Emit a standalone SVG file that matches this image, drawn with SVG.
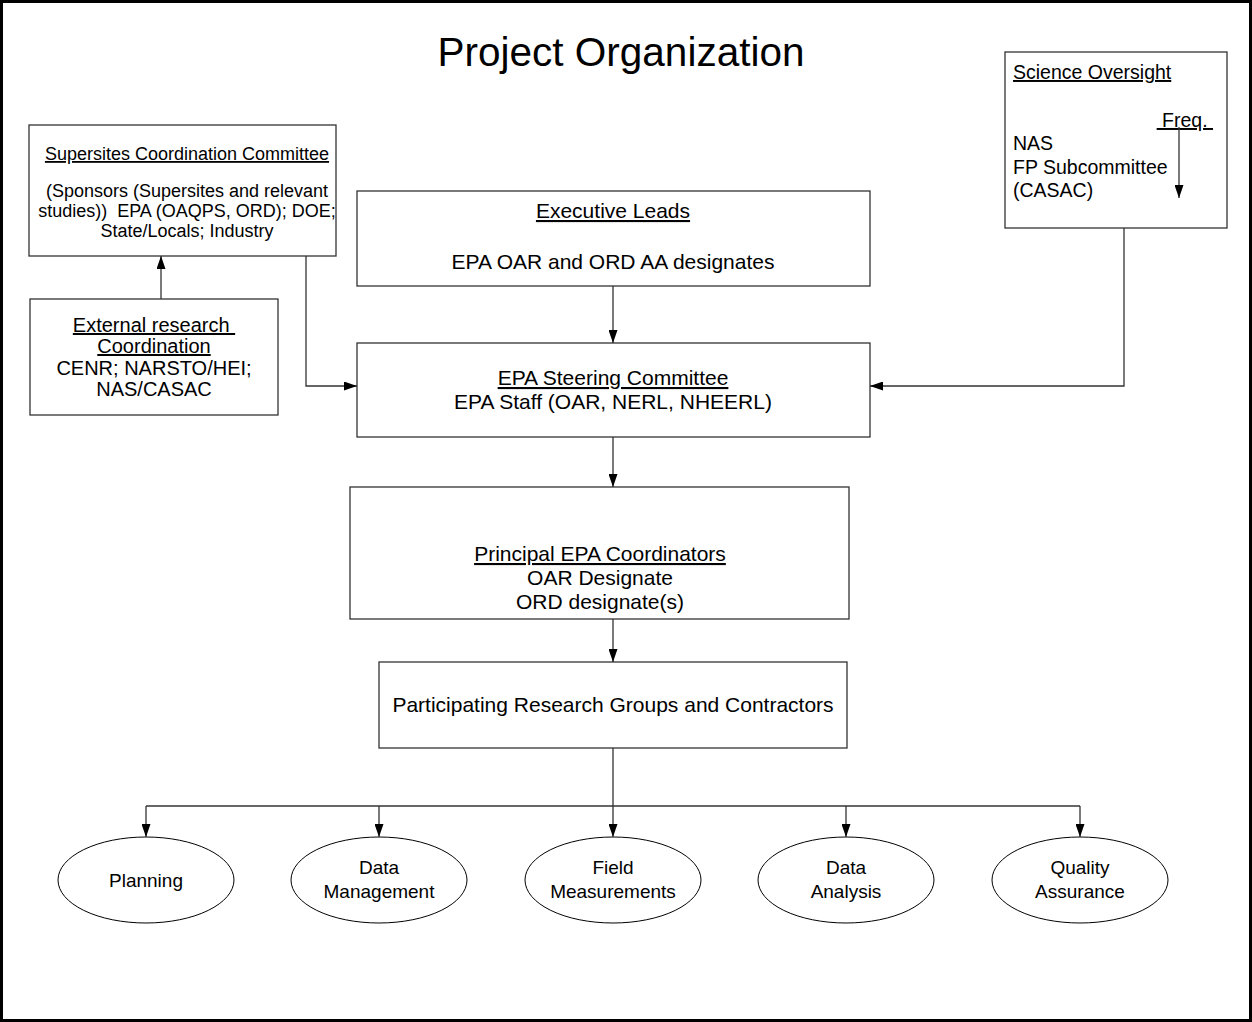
<svg xmlns="http://www.w3.org/2000/svg" width="1252" height="1022" viewBox="0 0 1252 1022">
<defs>
<style>
.t{font-family:"Liberation Sans",Arial,sans-serif;fill:#000}
.box{fill:#fff;stroke:#333;stroke-width:1.3}
.ell{fill:#fff;stroke:#000;stroke-width:1}
.c{fill:none;stroke:#333;stroke-width:1.3}
.u{text-decoration:underline}
.s18{font-size:18px}
.s19{font-size:19px}
.s195{font-size:19.5px}
.s20{font-size:20px}
.s21{font-size:21px}
</style>
<marker id="ah" viewBox="0 0 13 9" refX="13" refY="4.5" markerWidth="13" markerHeight="9" markerUnits="userSpaceOnUse" orient="auto">
<path d="M0,0 L13,4.5 L0,9 Z" fill="#000"/>
</marker>
</defs>
<rect x="0" y="0" width="1252" height="1022" fill="#fff"/>
<rect x="1.5" y="1.5" width="1249" height="1019" fill="none" stroke="#000" stroke-width="3"/>
<text class="t" x="621" y="66" font-size="40.5" text-anchor="middle">Project Organization</text>

<g id="supersites">
<rect class="box" x="29" y="125" width="307" height="131"/>
<text class="t s18 u" x="187" y="160" text-anchor="middle">Supersites Coordination Committee</text>
<text class="t s18" x="187" y="197" text-anchor="middle">(Sponsors (Supersites and relevant</text>
<text class="t s18" x="187" y="217" text-anchor="middle" xml:space="preserve">studies))  EPA (OAQPS, ORD); DOE;</text>
<text class="t s18" x="187" y="237" text-anchor="middle">State/Locals; Industry</text>
</g>

<g id="external">
<rect class="box" x="30" y="299" width="248" height="116"/>
<text class="t s20 u" x="154" y="332" text-anchor="middle" xml:space="preserve">External research </text>
<text class="t s20 u" x="154" y="353" text-anchor="middle">Coordination</text>
<text class="t s20" x="154" y="375" text-anchor="middle">CENR; NARSTO/HEI;</text>
<text class="t s20" x="154" y="396" text-anchor="middle">NAS/CASAC</text>
</g>

<g id="science">
<rect class="box" x="1005" y="52" width="222" height="176"/>
<text class="t s195 u" x="1013" y="79">Science Oversight</text>
<text class="t s195 u" x="1213" y="127" text-anchor="end" xml:space="preserve"> Freq. </text>
<text class="t s195" x="1013" y="150">NAS</text>
<text class="t s195" x="1013" y="174">FP Subcommittee</text>
<text class="t s195" x="1013" y="197">(CASAC)</text>
</g>

<g id="executive">
<rect class="box" x="357" y="191" width="513" height="95"/>
<text class="t s21 u" x="613" y="218" text-anchor="middle">Executive Leads</text>
<text class="t s21" x="613" y="269" text-anchor="middle">EPA OAR and ORD AA designates</text>
</g>

<g id="steering">
<rect class="box" x="357" y="343" width="513" height="94"/>
<text class="t s21 u" x="613" y="385" text-anchor="middle">EPA Steering Committee</text>
<text class="t s21" x="613" y="409" text-anchor="middle">EPA Staff (OAR, NERL, NHEERL)</text>
</g>

<g id="principal">
<rect class="box" x="350" y="487" width="499" height="132"/>
<text class="t s21 u" x="600" y="561" text-anchor="middle">Principal EPA Coordinators</text>
<text class="t s21" x="600" y="585" text-anchor="middle">OAR Designate</text>
<text class="t s21" x="600" y="609" text-anchor="middle">ORD designate(s)</text>
</g>

<g id="participating">
<rect class="box" x="379" y="662" width="468" height="86"/>
<text class="t s21" x="613" y="712" text-anchor="middle">Participating Research Groups and Contractors</text>
</g>

<g id="planning">
<ellipse class="ell" cx="146" cy="880" rx="88" ry="43"/>
<text class="t s19" x="146" y="887" text-anchor="middle">Planning</text>
</g>
<g id="data-management">
<ellipse class="ell" cx="379" cy="880" rx="88" ry="43"/>
<text class="t s19" x="379" y="874" text-anchor="middle">Data</text>
<text class="t s19" x="379" y="898" text-anchor="middle">Management</text>
</g>
<g id="field-measurements">
<ellipse class="ell" cx="613" cy="880" rx="88" ry="43"/>
<text class="t s19" x="613" y="874" text-anchor="middle">Field</text>
<text class="t s19" x="613" y="898" text-anchor="middle">Measurements</text>
</g>
<g id="data-analysis">
<ellipse class="ell" cx="846" cy="880" rx="88" ry="43"/>
<text class="t s19" x="846" y="874" text-anchor="middle">Data</text>
<text class="t s19" x="846" y="898" text-anchor="middle">Analysis</text>
</g>
<g id="quality-assurance">
<ellipse class="ell" cx="1080" cy="880" rx="88" ry="43"/>
<text class="t s19" x="1080" y="874" text-anchor="middle">Quality</text>
<text class="t s19" x="1080" y="898" text-anchor="middle">Assurance</text>
</g>

<g id="connectors">
<path class="c" d="M161,299 V256" marker-end="url(#ah)"/>
<path class="c" d="M306,256 V386 H357" marker-end="url(#ah)"/>
<path class="c" d="M1124,228 V386 H870" marker-end="url(#ah)"/>
<path class="c" d="M613,286 V343" marker-end="url(#ah)"/>
<path class="c" d="M613,437 V487" marker-end="url(#ah)"/>
<path class="c" d="M613,619 V662" marker-end="url(#ah)"/>
<path class="c" d="M613,748 V837" marker-end="url(#ah)"/>
<path class="c" d="M146,806 H1080"/>
<path class="c" d="M146,806 V837" marker-end="url(#ah)"/>
<path class="c" d="M379,806 V837" marker-end="url(#ah)"/>
<path class="c" d="M846,806 V837" marker-end="url(#ah)"/>
<path class="c" d="M1080,806 V837" marker-end="url(#ah)"/>
<path class="c" d="M1179,127 V198" marker-end="url(#ah)"/>
</g>
</svg>
